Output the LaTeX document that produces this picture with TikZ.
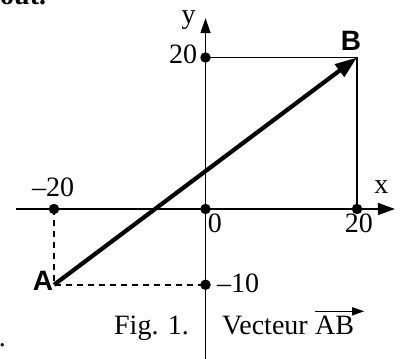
\documentclass[tikz,border=0pt]{standalone}
\usepackage{fontspec}
\setmainfont{Liberation Serif}
\newfontfamily\ptfont{Liberation Sans}
\usetikzlibrary{arrows.meta}

\begin{document}
\begin{tikzpicture}[x=7.575pt,y=7.575pt,
  dot/.style={circle,fill,inner sep=0pt,minimum size=10.5pt},
  lbl/.style={font=\fontsize{28}{32}\selectfont,inner sep=0pt},
  ptlbl/.style={font=\ptfont\bfseries\fontsize{28}{32}\selectfont,inner sep=0pt},
  thinline/.style={line width=1.5pt},
  dashline/.style={line width=1.5pt,dash pattern=on 6pt off 5pt}]
  \useasboundingbox (-27.13,-19.80) rectangle (26.20,27.59);

  % Points and axis ends
  \coordinate (A) at (-20,-10);
  \coordinate (B) at (20,20);
  \coordinate (xl) at (-25,0);
  \coordinate (xr) at (25,0);
  \coordinate (yb) at (0,-20.5);
  \coordinate (yt) at (0,25.2);

  % Ticks
  \node[dot] (xm) at (-20,0) {};
  \node[dot] (o) at (0,0) {};
  \node[dot] (xp) at (20,0) {};
  \node[dot] (yp) at (0,20) {};
  \node[dot] (ym) at (0,-10) {};

  % Axes
  \draw[thinline,-{Triangle[length=17pt,width=12pt]}] (xl) -- (xr);
  \draw[thinline,-{Triangle[length=15pt,width=10pt]}] (yb) -- (yt);

  % Projections
  \draw[thinline] (yp.center) -- (B) -- (xp.center);
  \draw[dashline] (xm.center) -- (A) -- (ym.center);

  % Vector AB
  \draw[line width=4.2pt,-{Triangle[length=22pt,width=15pt]}] (A) -- (B);

  % Labels
  \node[lbl] (ylbl) at (-2.24,25.0) {y};
  \node[lbl] (xlbl) at (23.23,2.84) {x};
  \node[lbl] (yplbl) at (-2.97,20.46) {20};
  \node[lbl] (xmlbl) at (-20.13,2.84) {\textendash20};
  \node[lbl] (olbl) at (1.25,-1.85) {0};
  \node[lbl] (xplbl) at (20.26,-1.85) {20};
  \node[lbl] (ymlbl) at (4.29,-9.77) {\textendash10};
  \node[ptlbl] (Blbl) at (19.21,22.18) {B};
  \node[ptlbl] (Albl) at (-21.45,-9.5) {A};

  % Caption
  \node[lbl,anchor=base] (fig) at (-7.13,-16.63) {Fig. 1.};
  \node[lbl,anchor=base west] (vec) at (2.18,-16.63) {Vecteur};
  \node[lbl,anchor=base west,xshift=7pt] (ab) at (vec.base east) {AB};
  \draw[thinline,-{Triangle[length=12pt,width=8pt]}]
    ([yshift=5pt]ab.north west) -- ([xshift=10pt,yshift=5pt]ab.north east);

  % Page text cut by the frame
  \node[lbl,font=\bfseries\fontsize{28}{32}\selectfont,anchor=base west] (top) at (-27.13,26.93) {out.};
  \node[lbl,anchor=base west] (stop) at (-27.3,-18.2) {.};
\end{tikzpicture}
\end{document}
